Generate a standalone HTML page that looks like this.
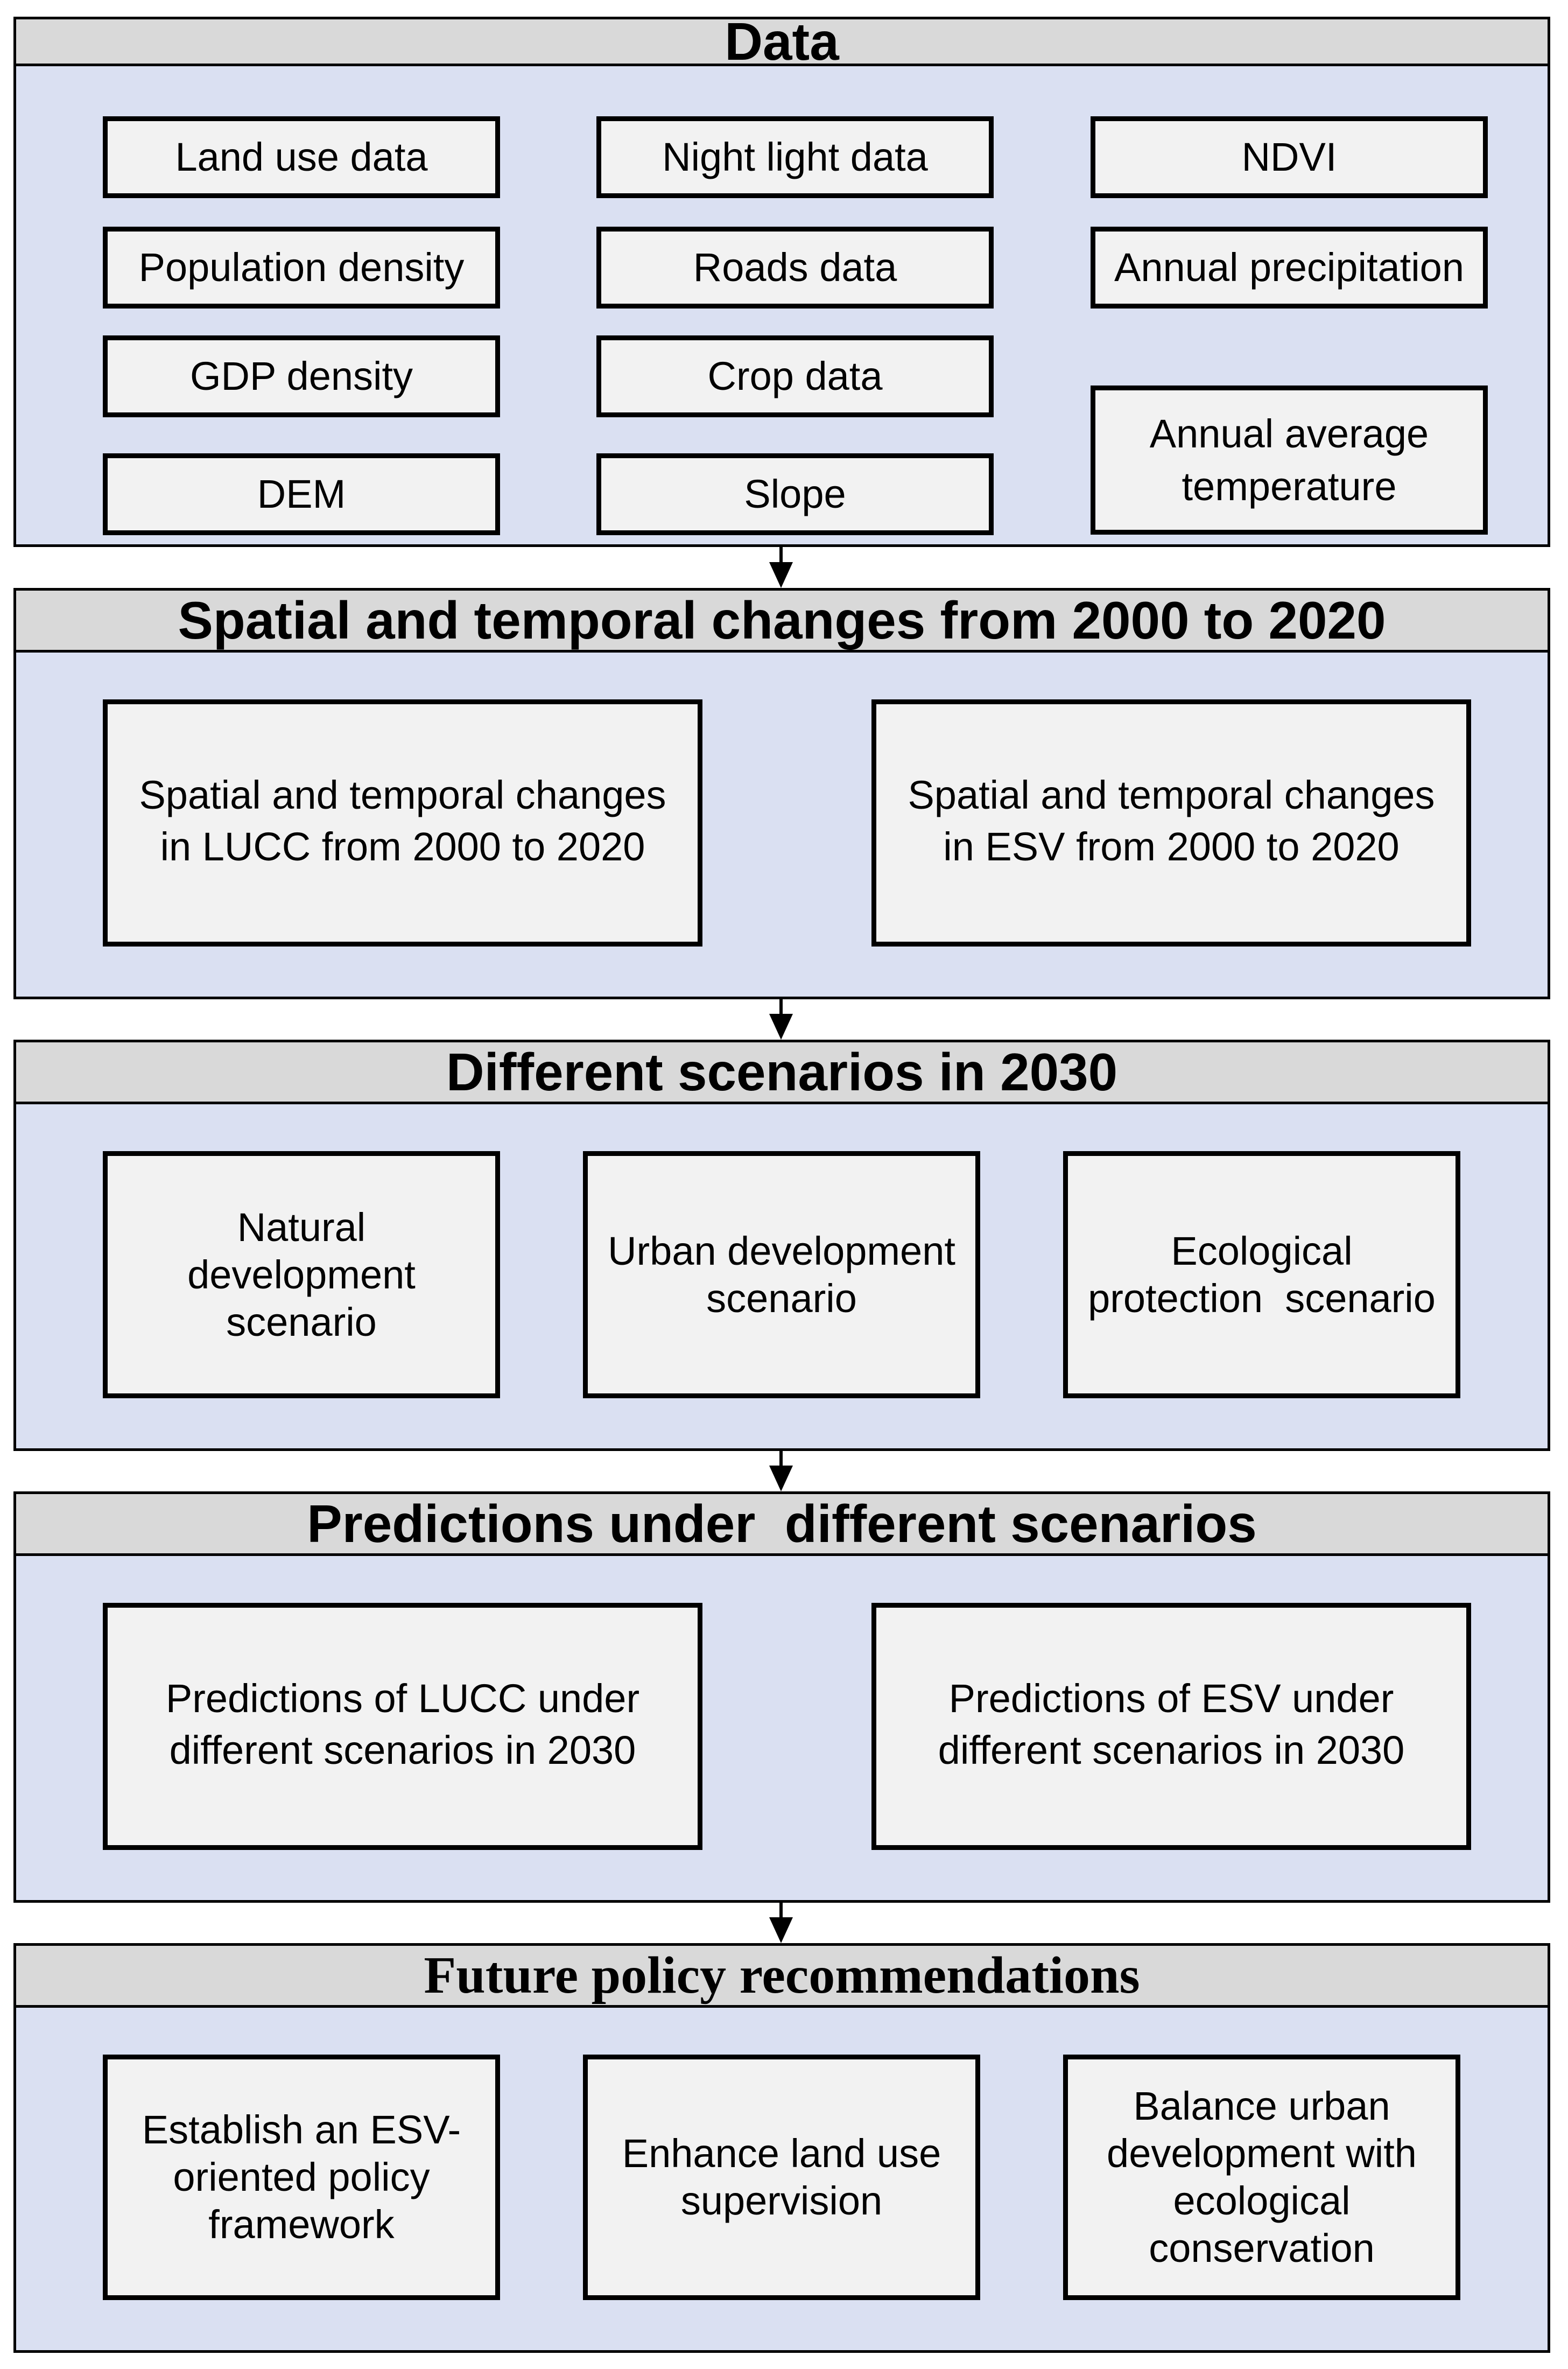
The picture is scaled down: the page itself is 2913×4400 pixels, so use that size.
<!DOCTYPE html>
<html><head><meta charset="utf-8">
<style>
html,body{margin:0;padding:0;background:#fff}
body{width:2913px;height:4400px;position:relative;overflow:hidden;font-family:"Liberation Sans",Arial,sans-serif;color:#000}
.sec{position:absolute;left:25px;width:2855px;background:#dae0f2;border:5px solid #000;box-sizing:border-box}
.hd{position:absolute;left:25px;width:2855px;background:#d9d9d9;border:5px solid #000;box-sizing:border-box;display:flex;align-items:center;justify-content:center;font-weight:bold;font-size:98px;white-space:nowrap}
.bx{position:absolute;background:#f2f2f2;border:9px solid #000;box-sizing:border-box;display:flex;align-items:center;justify-content:center;text-align:center;font-size:74px;line-height:92px;white-space:nowrap}
.arr{position:absolute;left:1448px;width:6px;background:#000}
.tri{position:absolute;left:1429px;width:0;height:0;border-left:22px solid transparent;border-right:22px solid transparent;border-top:48px solid #000}
</style></head><body>

<!-- Section 1 -->
<div class="sec" style="top:31px;height:985px"></div>
<div class="hd" style="top:31px;height:92px;">Data</div>
<div class="bx" style="left:191px;top:216px;width:738px;height:152px">Land use data</div>
<div class="bx" style="left:1108px;top:216px;width:738px;height:152px">Night light data</div>
<div class="bx" style="left:2026px;top:216px;width:738px;height:152px">NDVI</div>
<div class="bx" style="left:191px;top:421px;width:738px;height:152px">Population density</div>
<div class="bx" style="left:1108px;top:421px;width:738px;height:152px">Roads data</div>
<div class="bx" style="left:2026px;top:421px;width:738px;height:152px">Annual precipitation</div>
<div class="bx" style="left:191px;top:623px;width:738px;height:152px">GDP density</div>
<div class="bx" style="left:1108px;top:623px;width:738px;height:152px">Crop data</div>
<div class="bx" style="left:2026px;top:716px;width:738px;height:277px;line-height:98px">Annual average<br>temperature</div>
<div class="bx" style="left:191px;top:842px;width:738px;height:152px">DEM</div>
<div class="bx" style="left:1108px;top:842px;width:738px;height:152px">Slope</div>

<div class="arr" style="top:1016px;height:35px"></div>
<div class="tri" style="top:1044px"></div>

<!-- Section 2 -->
<div class="sec" style="top:1092px;height:764px"></div>
<div class="hd" style="top:1092px;height:120px;">Spatial and temporal changes from 2000 to 2020</div>
<div class="bx" style="left:191px;top:1299px;width:1114px;height:459px;line-height:96px;padding-bottom:8px">Spatial and temporal changes<br>in LUCC from 2000 to 2020</div>
<div class="bx" style="left:1619px;top:1299px;width:1114px;height:459px;line-height:96px;padding-bottom:8px">Spatial and temporal changes<br>in ESV from 2000 to 2020</div>

<div class="arr" style="top:1856px;height:35px"></div>
<div class="tri" style="top:1883px"></div>

<!-- Section 3 -->
<div class="sec" style="top:1931px;height:764px"></div>
<div class="hd" style="top:1931px;height:120px;">Different scenarios in 2030</div>
<div class="bx" style="left:191px;top:2138px;width:738px;height:459px;line-height:88px">Natural<br>development<br>scenario</div>
<div class="bx" style="left:1083px;top:2138px;width:738px;height:459px;line-height:88px">Urban development<br>scenario</div>
<div class="bx" style="left:1975px;top:2138px;width:738px;height:459px;line-height:88px">Ecological<br>protection&nbsp; scenario</div>

<div class="arr" style="top:2694px;height:35px"></div>
<div class="tri" style="top:2722px"></div>

<!-- Section 4 -->
<div class="sec" style="top:2770px;height:764px"></div>
<div class="hd" style="top:2770px;height:120px;">Predictions under&nbsp; different scenarios</div>
<div class="bx" style="left:191px;top:2977px;width:1114px;height:459px;line-height:96px;padding-bottom:8px">Predictions of LUCC under<br>different scenarios in 2030</div>
<div class="bx" style="left:1619px;top:2977px;width:1114px;height:459px;line-height:96px;padding-bottom:8px">Predictions of ESV under<br>different scenarios in 2030</div>

<div class="arr" style="top:3533px;height:35px"></div>
<div class="tri" style="top:3561px"></div>

<!-- Section 5 -->
<div class="sec" style="top:3609px;height:761px"></div>
<div class="hd" style="top:3609px;height:120px;font-family:'Liberation Serif','Times New Roman',serif;font-size:98px">Future policy recommendations</div>
<div class="bx" style="left:191px;top:3816px;width:738px;height:456px;line-height:88px">Establish an ESV-<br>oriented policy<br>framework</div>
<div class="bx" style="left:1083px;top:3816px;width:738px;height:456px;line-height:88px">Enhance land use<br>supervision</div>
<div class="bx" style="left:1975px;top:3816px;width:738px;height:456px;line-height:88px">Balance urban<br>development with<br>ecological<br>conservation</div>

</body></html>
